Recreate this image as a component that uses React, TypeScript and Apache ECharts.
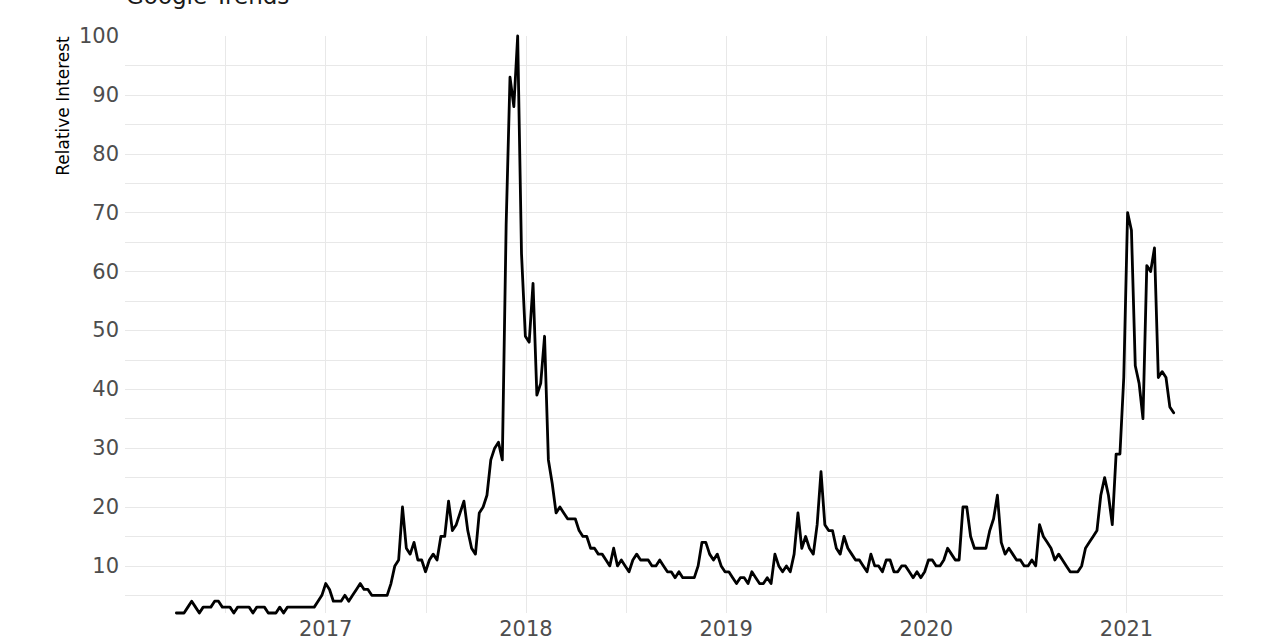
import React, { useEffect, useRef } from "react";
import * as echarts from "echarts";

// Weekly Google Trends data starting at this week
const startDate = "2016-04-03";
const interest = [
  2, 2, 2, 3, 4, 3, 2, 3, 3, 3, 4, 4, 3, 3, 3, 2, 3, 3, 3, 3,
  2, 3, 3, 3, 2, 2, 2, 3, 2, 3, 3, 3, 3, 3, 3, 3, 3, 4, 5, 7,
  6, 4, 4, 4, 5, 4, 5, 6, 7, 6, 6, 5, 5, 5, 5, 5, 7, 10, 11, 20,
  13, 12, 14, 11, 11, 9, 11, 12, 11, 15, 15, 21, 16, 17, 19, 21, 16, 13, 12, 19,
  20, 22, 28, 30, 31, 28, 68, 93, 88, 100, 63, 49, 48, 58, 39, 41, 49, 28, 24, 19,
  20, 19, 18, 18, 18, 16, 15, 15, 13, 13, 12, 12, 11, 10, 13, 10, 11, 10, 9, 11,
  12, 11, 11, 11, 10, 10, 11, 10, 9, 9, 8, 9, 8, 8, 8, 8, 10, 14, 14, 12,
  11, 12, 10, 9, 9, 8, 7, 8, 8, 7, 9, 8, 7, 7, 8, 7, 12, 10, 9, 10,
  9, 12, 19, 13, 15, 13, 12, 17, 26, 17, 16, 16, 13, 12, 15, 13, 12, 11, 11, 10,
  9, 12, 10, 10, 9, 11, 11, 9, 9, 10, 10, 9, 8, 9, 8, 9, 11, 11, 10, 10,
  11, 13, 12, 11, 11, 20, 20, 15, 13, 13, 13, 13, 16, 18, 22, 14, 12, 13, 12, 11,
  11, 10, 10, 11, 10, 17, 15, 14, 13, 11, 12, 11, 10, 9, 9, 9, 10, 13, 14, 15,
  16, 22, 25, 22, 17, 29, 29, 42, 70, 67, 44, 41, 35, 61, 60, 64, 42, 43, 42, 37,
  36,
];

const yearLabels = [2017, 2018, 2019, 2020, 2021];
const yearGrid = [2016.5, 2017, 2017.5, 2018, 2018.5, 2019, 2019.5, 2020, 2020.5, 2021];
const yLabels = [10, 20, 30, 40, 50, 60, 70, 80, 90, 100];
const yGrid = [5, 10, 15, 20, 25, 30, 35, 40, 45, 50, 55, 60, 65, 70, 75, 80, 85, 90, 95];

const titleText = "Google Trends";
const yTitle = "Relative Interest";

function toDecimalYear(ms: number): number {
  const d = new Date(ms);
  const y = d.getUTCFullYear();
  const s = Date.UTC(y, 0, 1);
  const e = Date.UTC(y + 1, 0, 1);
  return y + (ms - s) / (e - s);
}

const FONT = "DejaVu Sans";

export default function App() {
  const ref = useRef<HTMLDivElement>(null);
  useEffect(() => {
    if (!ref.current) return;
    const chart = echarts.init(ref.current, undefined, { renderer: "svg" });
    const start = Date.parse(startDate + "T00:00:00Z");
    const data = interest.map((v, i) => [toDecimalYear(start + i * 7 * 86400000), v]);
    const gridLine = { show: true, lineStyle: { color: "#e8e8e8", width: 1 } };
    chart.setOption({
      animation: false,
      backgroundColor: "#ffffff",
      grid: { left: 125, right: 57, top: 36, bottom: 24, containLabel: false },
      xAxis: {
        type: "value",
        min: 2015.9975,
        max: 2021.482,
        axisLine: { show: false },
        axisTick: { show: false, customValues: yearGrid },
        axisLabel: {
          customValues: yearLabels,
          formatter: (v: number) => String(Math.round(v)),
          fontSize: 21,
          color: "#4d4d4d",
          fontFamily: FONT,
          margin: 5,
        },
        splitLine: gridLine,
      },
      yAxis: {
        type: "value",
        min: 2,
        max: 100,
        axisLine: { show: false },
        axisTick: { show: false, customValues: yGrid },
        axisLabel: {
          customValues: yLabels,
          fontSize: 21,
          color: "#4d4d4d",
          fontFamily: FONT,
          margin: 6,
        },
        splitLine: gridLine,
      },
      series: [
        {
          type: "line",
          data,
          symbol: "none",
          showSymbol: false,
          clip: false,
          lineStyle: { color: "#000000", width: 2.8, join: "round", cap: "round" },
        },
      ],
      graphic: [
        {
          type: "text",
          left: 126,
          top: -16,
          style: { text: titleText, fontSize: 23, fontFamily: FONT, fill: "#1a1a1a" },
        },
        {
          type: "text",
          x: 63,
          y: 106,
          rotation: Math.PI / 2,
          style: {
            text: yTitle,
            fontSize: 17,
            fontFamily: FONT,
            fill: "#000000",
            align: "center",
            verticalAlign: "middle",
          },
        },
      ],
    });
    return () => chart.dispose();
  }, []);
  return (
    <div
      ref={ref}
      style={{ position: "absolute", left: 0, top: 0, width: 1280, height: 639 }}
    />
  );
}
